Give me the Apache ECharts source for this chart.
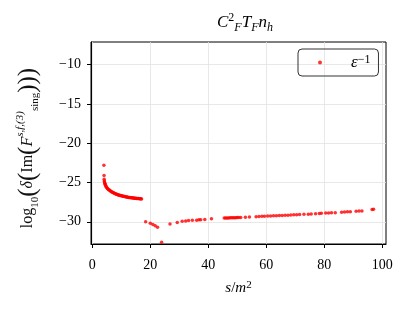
<!DOCTYPE html>
<html>
<head>
<meta charset="utf-8">
<script src="https://cdn.jsdelivr.net/npm/echarts@6/dist/echarts.min.js"></script>
<style>html,body{margin:0;padding:0;background:#fff;}#c{width:410px;height:313px;}</style>
</head>
<body>
<div id="c"></div>
<script>
// data: [s/m^2, log10 value]
var seriesName = 'eps';
var branch1 = [[4.0,-22.8],[4.05,-24.1],[4.1,-24.6],[4.15,-24.8],[4.2,-24.95],[4.3,-25.1],[4.4,-25.2],[4.5,-25.3],[4.6,-25.4],[4.75,-25.5],[4.9,-25.6],[5.1,-25.7],[5.3,-25.8],[5.5,-25.85],[5.75,-25.95],[6.0,-26.0],[6.25,-26.1],[6.5,-26.15],[6.75,-26.2],[7.0,-26.25],[7.25,-26.3],[7.5,-26.35],[7.75,-26.4],[8.0,-26.45],[8.25,-26.5],[8.5,-26.5],[8.75,-26.55],[9.0,-26.6],[9.25,-26.6],[9.5,-26.65],[9.75,-26.65],[10.0,-26.7],[10.25,-26.7],[10.5,-26.75],[10.75,-26.75],[11.0,-26.8],[11.25,-26.8],[11.5,-26.82],[11.75,-26.85],[12.0,-26.85],[12.25,-26.87],[12.5,-26.9],[12.75,-26.9],[13.0,-26.92],[13.25,-26.93],[13.5,-26.95],[13.75,-26.95],[14.0,-26.97],[14.25,-26.98],[14.5,-27.0],[14.75,-27.0],[15.0,-27.02],[15.25,-27.03],[15.5,-27.04],[15.75,-27.05],[16.0,-27.05],[16.25,-27.06],[16.5,-27.07],[16.75,-27.08],[17.0,-27.1]];
var branch2 = [[18.4,-30.0],[20.0,-30.2],[20.9,-30.35],[21.7,-30.5],[22.5,-30.7],[23.9,-32.6],[26.8,-30.3],[29.3,-30.1],[31.0,-29.95],[32.2,-29.9],[33.2,-29.85],[34.5,-29.8],[36.0,-29.8],[36.8,-29.75],[37.4,-29.75],[38.8,-29.7],[41.1,-29.62]];
var branch3 = [[45.5,-29.53],[46.0,-29.52],[46.5,-29.52],[47.0,-29.51],[47.5,-29.5],[48.0,-29.5],[48.5,-29.49],[49.0,-29.48],[49.5,-29.48],[50.0,-29.47],[50.5,-29.46],[51.2,-29.45],[52.8,-29.42],[54.2,-29.4],[56.5,-29.35],[57.5,-29.32],[58.5,-29.31],[59.4,-29.3],[60.5,-29.28],[61.5,-29.27],[62.5,-29.25],[63.5,-29.23],[64.5,-29.21],[65.5,-29.2],[66.5,-29.18],[67.5,-29.16],[68.5,-29.14],[69.5,-29.12],[70.5,-29.1],[71.5,-29.08],[73.0,-29.06],[74.5,-29.03],[75.5,-29.01],[77.0,-28.98],[78.3,-28.95],[79.0,-28.93],[80.5,-28.9],[81.5,-28.88],[82.5,-28.86],[83.8,-28.84],[86.0,-28.78],[87.0,-28.76],[88.0,-28.74],[89.0,-28.72],[91.0,-28.66],[92.0,-28.64],[93.0,-28.62],[96.5,-28.43],[97.0,-28.42]];
var xTicks = [0, 20, 40, 60, 80, 100];
var yTicks = [-30, -25, -20, -15, -10];

var serif = '"Liberation Serif", "DejaVu Serif", serif';
var chart = echarts.init(document.getElementById('c'), null, {renderer: 'canvas'});
function fmt(v) { return String(v).replace('-', '\u2212'); }
function st(size, italic, extra) {
  var o = {fontFamily: serif, fontSize: size, fontWeight: 'normal', fontStyle: italic ? 'italic' : 'normal', color: '#000'};
  for (var k in extra) o[k] = extra[k];
  return o;
}

chart.setOption({
  animation: false,
  backgroundColor: '#fff',
  title: {
    text: '{i|C}{ss|2}{sb|F}{i|T}{sb|F}{i|n}{sb|h}',
    left: 240, top: 7, textAlign: 'center',
    textStyle: {
      fontWeight: 'normal',
      rich: {
        i: st(17, true, {lineHeight: 22}),
        ss: st(12, false, {lineHeight: 14, verticalAlign: 'top'}),
        sb: st(12, true, {lineHeight: 10, verticalAlign: 'bottom'})
      }
    }
  },
  legend: {
    show: true,
    left: 298, top: 49,
    padding: [5, 8, 5, 20],
    borderColor: '#333', borderWidth: 1, borderRadius: 4,
    itemWidth: 4, itemHeight: 4,
    data: [seriesName],
    formatter: function () { return '{e|\u03b5}{s|\u22121}'; },
    textStyle: {
      fontWeight: 'normal',
      padding: [0, 0, 0, 24],
      rich: {
        e: st(17, true, {lineHeight: 17, verticalAlign: 'bottom'}),
        s: st(12, false, {lineHeight: 12, verticalAlign: 'top'})
      }
    }
  },
  grid: {left: 91, right: 24, top: 42, bottom: 69, show: true, borderColor: '#000', borderWidth: 1, containLabel: false},
  xAxis: {
    type: 'value', min: -0.45, max: 101.3,
    name: '{i|s}{n|/}{i|m}{s|2}', nameLocation: 'middle', nameGap: 36,
    nameTextStyle: {
      fontWeight: 'normal',
      rich: {
        i: st(15, true, {lineHeight: 17}),
        n: st(15, false, {lineHeight: 17}),
        s: st(11, false, {lineHeight: 11, verticalAlign: 'top'})
      }
    },
    axisLine: {show: true, onZero: false, lineStyle: {color: '#000', width: 1}},
    axisTick: {show: true, inside: false, length: 4, customValues: xTicks, lineStyle: {color: '#000'}},
    axisLabel: {customValues: xTicks, fontFamily: serif, fontSize: 14, color: '#000', margin: 14, formatter: fmt},
    splitLine: {show: true, lineStyle: {color: '#e2e2e2', width: 0.8}}
  },
  yAxis: {
    type: 'value', min: -32.83, max: -7.13,
    name: '{n|log}{sb|10}{bp|(}{i|\u03b4}{bp|(}{n|Im}{bp|(}{i|F}{sp|s,f,(3)}{sb|sing}{bp|)}{bp|)}{bp|)}',
    nameLocation: 'middle', nameRotate: 90, nameGap: 50,
    nameTextStyle: {
      fontWeight: 'normal',
      padding: [0, 10, 0, 0],
      rich: {
        n: st(16, false, {lineHeight: 26, color: '#111'}),
        i: st(16, true, {lineHeight: 26, color: '#111'}),
        bp: st(25, false, {lineHeight: 26, color: '#111'}),
        sb: st(11, false, {lineHeight: 16, verticalAlign: 'bottom', color: '#111'}),
        sp: st(11, true, {lineHeight: 16, verticalAlign: 'top', color: '#111'})
      }
    },
    axisLine: {show: true, onZero: false, lineStyle: {color: '#000', width: 1}},
    axisTick: {show: true, inside: false, length: 4, customValues: yTicks, lineStyle: {color: '#000'}},
    axisLabel: {customValues: yTicks, fontFamily: serif, fontSize: 14, color: '#000', margin: 10, formatter: fmt},
    splitLine: {show: true, lineStyle: {color: '#e2e2e2', width: 0.8}}
  },
  series: [{
    name: seriesName, type: 'scatter',
    data: branch1.concat(branch2, branch3),
    symbol: 'circle', symbolSize: 3.5,
    itemStyle: {color: '#ff0000'},
    emphasis: {disabled: true}
  }]
});
</script>
</body>
</html>
